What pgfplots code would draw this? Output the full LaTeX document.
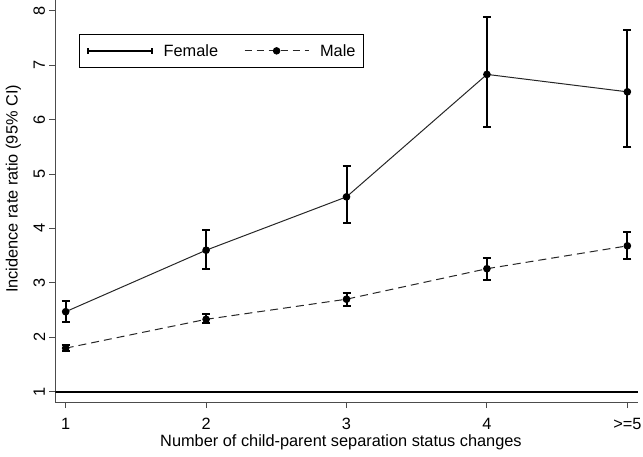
\documentclass[border=0pt]{standalone}
\usepackage{fontspec}
\setmainfont{Liberation Sans}
\usepackage{pgfplots}
\pgfplotsset{compat=1.18}
\usepackage{pgfplotstable}

\pgfplotstableread{
x y ep em
1 2.47 0.20 0.195
2 3.60 0.37 0.35
3 4.58 0.56 0.48
4 6.83 1.06 0.96
5 6.51 1.14 1.02
}\female
\pgfplotstableread{
x y ep em
1 1.80 0.05 0.05
2 2.33 0.09 0.07
3 2.70 0.12 0.13
4 3.26 0.19 0.21
5 3.68 0.25 0.24
}\male

\begin{document}
\begin{tikzpicture}
\begin{axis}[
  scale only axis, width=583bp, height=402bp,
  xmin=0.926, xmax=5.078, ymin=0.811, ymax=8.197,
  axis x line*=bottom, axis y line*=left,
  axis line style={black!70, line width=0.9bp},
  xtick={1,2,3,4,5}, xticklabels={1,2,3,4,{>=5}},
  ytick={1,2,3,4,5,6,7,8},
  tick align=outside, major tick length=6bp,
  tick style={black!70, line width=0.9bp},
  ticklabel style={font=\fontsize{16.4}{19}\selectfont},
  /pgf/number format/assume math mode=true,
  yticklabel style={xshift=-10bp, rotate=90, anchor=center},
  xticklabel style={yshift=-15.5bp, anchor=center},
  xlabel={Number of child-parent separation status changes},
  xlabel style={font=\fontsize{16.4}{19}\selectfont, at={([yshift=-44.7bp]axis description cs:0.49,0)}, anchor=base},
  ylabel={Incidence rate ratio (95\% CI)},
  ylabel style={font=\fontsize{16.4}{19}\selectfont, at={([xshift=-41.8bp]axis description cs:0,0.53)}, anchor=center},
  legend style={at={(axis description cs:0.0412,0.9147)}, anchor=north west,
    draw=black, line width=0.8bp, font=\fontsize{16.4}{19}\selectfont,
    inner xsep=7.4bp, inner ysep=9.5bp, nodes={inner sep=0pt},
    /tikz/every odd column/.append style={column sep=11bp},
    /tikz/every even column/.append style={column sep=26bp}},
  legend columns=2, legend cell align=left,
]
\addplot[black, line width=2bp, forget plot] coordinates {(0.926,1) (5.078,1)};
\addplot[black!85, line width=1bp, mark=*, mark size=3.3bp, mark options={black, solid}, forget plot,
  error bars/.cd, y dir=both, y explicit,
  error bar style={black, line width=2bp, solid},
  error mark options={black, line width=2bp, mark size=4bp, rotate=90}]
  table[x=x, y=y, y error plus=ep, y error minus=em]{\female};
\addplot[black!85, line width=1bp, dash pattern=on 8bp off 5bp, mark=*, mark size=3.3bp, mark options={black, solid}, forget plot,
  error bars/.cd, y dir=both, y explicit,
  error bar style={black, line width=2bp, solid},
  error mark options={black, line width=2bp, mark size=4bp, rotate=90}]
  table[x=x, y=y, y error plus=ep, y error minus=em]{\male};
\addlegendimage{legend image code/.code={
  \draw[black, line width=1.5bp] (0bp,0bp)--(64bp,0bp);
  \draw[black, line width=1.5bp] (0bp,-3bp)--(0bp,3bp);
  \draw[black, line width=1.5bp] (64bp,-3bp)--(64bp,3bp);}}
\addlegendentry{Female}
\addlegendimage{legend image code/.code={
  \draw[black!85, line width=1bp, dash pattern=on 7bp off 5bp] (0bp,0bp)--(64bp,0bp);
  \fill[black] (32bp,0bp) circle (3.3bp);}}
\addlegendentry{Male}
\end{axis}
\pgfresetboundingbox
\useasboundingbox (-55.3bp,-55bp) rectangle (587.7bp,402bp);
\end{tikzpicture}
\end{document}
